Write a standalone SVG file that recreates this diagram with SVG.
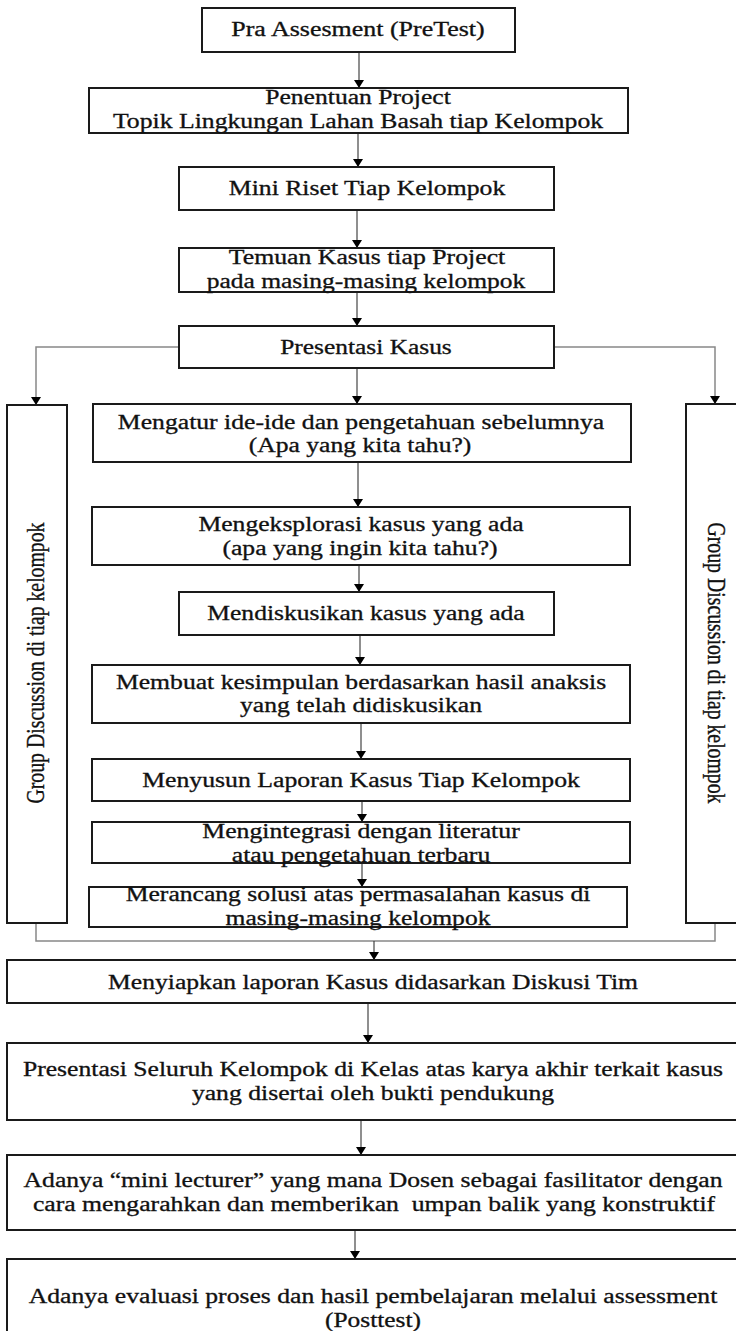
<svg xmlns="http://www.w3.org/2000/svg" width="736" height="1331" viewBox="0 0 736 1331">
<style>
.box{fill:#fff;stroke:#1a1a1a;stroke-width:2}
.t{font-family:"Liberation Serif","Times New Roman",serif;font-size:20px;fill:#111;stroke:#111;stroke-width:0.3;text-anchor:middle}
.ln{fill:none;stroke:#333;stroke-width:1.1}
.side{fill:none;stroke:#888;stroke-width:1.5}
</style>
<defs>
<marker id="ah" viewBox="0 0 8 10" refX="8" refY="5" markerWidth="8" markerHeight="10" markerUnits="userSpaceOnUse" orient="auto">
<path d="M0,0 L8,5 L0,10 Z" fill="#000"/>
</marker>
</defs>
<rect width="736" height="1331" fill="#fff"/>

<g id="connectors">
<line class="ln" x1="359" y1="52" x2="359" y2="88" marker-end="url(#ah)"/>
<line class="ln" x1="358" y1="133" x2="358" y2="167" marker-end="url(#ah)"/>
<line class="ln" x1="357" y1="210" x2="357" y2="248" marker-end="url(#ah)"/>
<line class="ln" x1="357" y1="292" x2="357" y2="326" marker-end="url(#ah)"/>
<line class="ln" x1="357" y1="368" x2="357" y2="404" marker-end="url(#ah)"/>
<polyline class="side" points="179,347 36,347 36,405" marker-end="url(#ah)"/>
<polyline class="side" points="554,347 715,347 715,404" marker-end="url(#ah)"/>
<line class="ln" x1="358" y1="462" x2="358" y2="507" marker-end="url(#ah)"/>
<line class="ln" x1="359" y1="565" x2="359" y2="592" marker-end="url(#ah)"/>
<line class="ln" x1="360" y1="635" x2="360" y2="665" marker-end="url(#ah)"/>
<line class="ln" x1="361" y1="723" x2="361" y2="759" marker-end="url(#ah)"/>
<line class="ln" x1="362" y1="801" x2="362" y2="822" marker-end="url(#ah)"/>
<line class="ln" x1="362" y1="863" x2="362" y2="887" marker-end="url(#ah)"/>
<polyline class="side" points="36,923 36,941 715,941 715,923"/>
<line class="ln" x1="374" y1="941" x2="374" y2="960" marker-end="url(#ah)"/>
<line class="ln" x1="368" y1="1003" x2="368" y2="1043" marker-end="url(#ah)"/>
<line class="ln" x1="361" y1="1120" x2="361" y2="1155" marker-end="url(#ah)"/>
<line class="ln" x1="355" y1="1230" x2="355" y2="1259" marker-end="url(#ah)"/>
</g>

<g id="n1"><rect class="box" x="202" y="8" width="313" height="44"/>
<text class="t" transform="translate(358,36) scale(1.28,1)" textLength="198" lengthAdjust="spacingAndGlyphs">Pra Assesment (PreTest)</text></g>

<g id="n2"><rect class="box" x="89" y="88" width="539" height="45"/>
<text class="t" transform="translate(358,104) scale(1.28,1)" textLength="145" lengthAdjust="spacingAndGlyphs">Penentuan Project</text>
<text class="t" transform="translate(358,128) scale(1.28,1)" textLength="383" lengthAdjust="spacingAndGlyphs">Topik Lingkungan Lahan Basah tiap Kelompok</text></g>

<g id="n3"><rect class="box" x="179" y="167" width="375" height="43"/>
<text class="t" transform="translate(367,195) scale(1.28,1)" textLength="216" lengthAdjust="spacingAndGlyphs">Mini Riset Tiap Kelompok</text></g>

<g id="n4"><rect class="box" x="179" y="248" width="375" height="44"/>
<text class="t" transform="translate(367,264) scale(1.28,1)" textLength="216" lengthAdjust="spacingAndGlyphs">Temuan Kasus tiap Project</text>
<text class="t" transform="translate(366,288) scale(1.28,1)" textLength="249" lengthAdjust="spacingAndGlyphs">pada masing-masing kelompok</text></g>

<g id="n5"><rect class="box" x="179" y="326" width="375" height="42"/>
<text class="t" transform="translate(366,354) scale(1.28,1)" textLength="134" lengthAdjust="spacingAndGlyphs">Presentasi Kasus</text></g>

<g id="gd-left"><rect class="box" x="7" y="405" width="60" height="518"/>
<text class="t" transform="translate(44,663) rotate(-90) scale(1,1.28)" textLength="281" lengthAdjust="spacingAndGlyphs">Group Discussion di tiap kelompok</text></g>

<g id="gd-right"><rect class="box" x="686" y="404" width="70" height="519"/>
<text class="t" transform="translate(708,663) rotate(90) scale(1,1.28)" textLength="281" lengthAdjust="spacingAndGlyphs">Group Discussion di tiap kelompok</text></g>

<g id="n6"><rect class="box" x="93" y="404" width="538" height="58"/>
<text class="t" transform="translate(361,429) scale(1.28,1)" textLength="380" lengthAdjust="spacingAndGlyphs">Mengatur ide-ide dan pengetahuan sebelumnya</text>
<text class="t" transform="translate(360,452) scale(1.28,1)" textLength="174" lengthAdjust="spacingAndGlyphs">(Apa yang kita tahu?)</text></g>

<g id="n7"><rect class="box" x="92" y="507" width="538" height="58"/>
<text class="t" transform="translate(361,531) scale(1.28,1)" textLength="254" lengthAdjust="spacingAndGlyphs">Mengeksplorasi kasus yang ada</text>
<text class="t" transform="translate(360,555) scale(1.28,1)" textLength="215" lengthAdjust="spacingAndGlyphs">(apa yang ingin kita tahu?)</text></g>

<g id="n8"><rect class="box" x="179" y="592" width="375" height="43"/>
<text class="t" transform="translate(366,620) scale(1.28,1)" textLength="248" lengthAdjust="spacingAndGlyphs">Mendiskusikan kasus yang ada</text></g>

<g id="n9"><rect class="box" x="92" y="665" width="538" height="58"/>
<text class="t" transform="translate(361,689) scale(1.28,1)" textLength="383" lengthAdjust="spacingAndGlyphs">Membuat kesimpulan berdasarkan hasil anaksis</text>
<text class="t" transform="translate(361,712) scale(1.28,1)" textLength="189" lengthAdjust="spacingAndGlyphs">yang telah didiskusikan</text></g>

<g id="n10"><rect class="box" x="92" y="759" width="538" height="42"/>
<text class="t" transform="translate(361,787) scale(1.28,1)" textLength="342" lengthAdjust="spacingAndGlyphs">Menyusun Laporan Kasus Tiap Kelompok</text></g>

<g id="n11"><rect class="box" x="92" y="822" width="538" height="41"/>
<text class="t" transform="translate(361,838) scale(1.28,1)" textLength="248" lengthAdjust="spacingAndGlyphs">Mengintegrasi dengan literatur</text>
<text class="t" transform="translate(361,862) scale(1.28,1)" textLength="202" lengthAdjust="spacingAndGlyphs">atau pengetahuan terbaru</text></g>

<g id="n12"><rect class="box" x="89" y="887" width="538" height="40"/>
<text class="t" transform="translate(358,901) scale(1.28,1)" textLength="363" lengthAdjust="spacingAndGlyphs">Merancang solusi atas permasalahan kasus di</text>
<text class="t" transform="translate(358,925) scale(1.28,1)" textLength="207" lengthAdjust="spacingAndGlyphs">masing-masing kelompok</text></g>

<g id="n13"><rect class="box" x="7" y="960" width="740" height="43"/>
<text class="t" transform="translate(373,989) scale(1.28,1)" textLength="414" lengthAdjust="spacingAndGlyphs">Menyiapkan laporan Kasus didasarkan Diskusi Tim</text></g>

<g id="n14"><rect class="box" x="7" y="1043" width="740" height="77"/>
<text class="t" transform="translate(373,1076) scale(1.28,1)" textLength="547" lengthAdjust="spacingAndGlyphs">Presentasi Seluruh Kelompok di Kelas atas karya akhir terkait kasus</text>
<text class="t" transform="translate(373,1100) scale(1.28,1)" textLength="283" lengthAdjust="spacingAndGlyphs">yang disertai oleh bukti pendukung</text></g>

<g id="n15"><rect class="box" x="7" y="1155" width="740" height="75"/>
<text class="t" transform="translate(373,1187) scale(1.28,1)" textLength="546" lengthAdjust="spacingAndGlyphs">Adanya “mini lecturer” yang mana Dosen sebagai fasilitator dengan</text>
<text class="t" transform="translate(374,1211) scale(1.28,1)" textLength="533" lengthAdjust="spacingAndGlyphs" xml:space="preserve">cara mengarahkan dan memberikan  umpan balik yang konstruktif</text></g>

<g id="n16"><rect class="box" x="7" y="1259" width="740" height="90"/>
<text class="t" transform="translate(373,1303) scale(1.28,1)" textLength="538" lengthAdjust="spacingAndGlyphs">Adanya evaluasi proses dan hasil pembelajaran melalui assessment</text>
<text class="t" transform="translate(373,1327) scale(1.28,1)" textLength="75" lengthAdjust="spacingAndGlyphs">(Posttest)</text></g>
</svg>
